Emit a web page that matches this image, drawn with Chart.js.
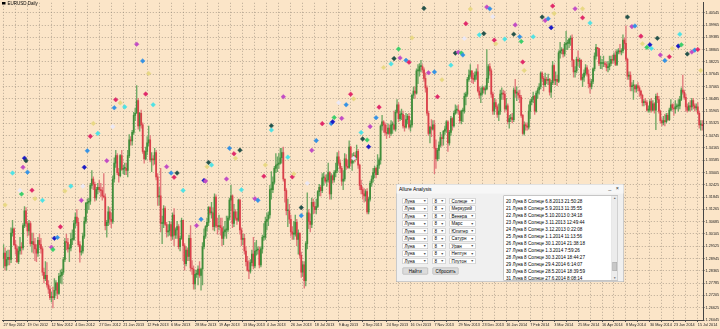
<!DOCTYPE html>
<html><head><meta charset="utf-8">
<script src="https://cdn.jsdelivr.net/npm/chart.js@4/dist/chart.umd.min.js"></script>
<style>
html,body{margin:0;padding:0;background:#fbe5c8;overflow:hidden;}
#wrap{position:relative;width:720px;height:329px;}
#c{display:block;}
#title{position:absolute;left:2px;top:1px;transform:scale(.5);transform-origin:0 0;font:9px "Liberation Sans",Arial,sans-serif;color:#000;white-space:nowrap;}
#title i{display:inline-block;width:7px;height:5px;background:#000;margin-right:4px;vertical-align:1px;}
#dlg{position:absolute;left:396px;top:184px;width:456px;height:196px;transform:scale(.5);transform-origin:0 0;background:#f0f0f0;border:1px solid #a4a4a4;box-sizing:border-box;font-family:"Liberation Sans",Arial,sans-serif;color:#000;}
#dlg .tb{position:absolute;left:0;top:0;right:0;height:18px;background:#f7f7f7;}
#dlg .tt{position:absolute;left:5px;top:3px;font-size:10px;}
#dlg .tc{position:absolute;right:6px;top:1px;font-size:11px;color:#333;letter-spacing:3px;}
#dlg .cb{position:absolute;height:12px;background:#fff;border:1px solid #b4b4b4;box-sizing:border-box;font-size:9px;line-height:10px;padding-left:3px;overflow:hidden;white-space:nowrap;}
#dlg .cb b{position:absolute;right:2px;top:0;font-weight:normal;font-size:7px;color:#555;}
#dlg .bt{position:absolute;height:14px;background:#dcdcdc;border:1px solid #a4a4a4;border-radius:2px;box-sizing:border-box;font-size:9px;line-height:12px;text-align:center;}
#dlg .lb{position:absolute;left:214px;top:22px;width:229px;height:170px;background:#fff;border:1px solid #939393;box-sizing:border-box;overflow:hidden;}
#dlg .ln{position:absolute;left:4px;font-size:9.2px;line-height:11px;white-space:nowrap;}
#dlg .sb{position:absolute;right:0;top:0;width:12px;height:100%;background:#ececec;border-left:1px solid #dadada;box-sizing:border-box;}
#dlg .sb .a{position:absolute;left:1px;width:9px;font-size:6px;color:#666;text-align:center;}
#dlg .sb .th{position:absolute;left:1px;width:9px;top:132px;height:18px;background:#c8c8c8;border:1px solid #aaa;box-sizing:border-box;}
</style></head>
<body><div id="wrap">
<canvas id="c" width="720" height="329"></canvas>
<div id="title"><i></i>EURUSD,Daily</div>
<div id="dlg"></div>
</div>
<script>
// ---- DATA ----
const xTickLabels = ["27 Sep 2012","19 Oct 2012","12 Nov 2012","4 Dec 2012","27 Dec 2012","21 Jan 2013","12 Feb 2013","6 Mar 2013","28 Mar 2013","19 Apr 2013","13 May 2013","4 Jun 2013","26 Jun 2013","18 Jul 2013","9 Aug 2013","2 Sep 2013","24 Sep 2013","16 Oct 2013","7 Nov 2013","29 Nov 2013","23 Dec 2013","16 Jan 2014","7 Feb 2014","3 Mar 2014","25 Mar 2014","16 Apr 2014","8 May 2014","30 May 2014","23 Jun 2014","15 Jul 2014"];
const yTicks = [1.40545,1.39965,1.39385,1.38805,1.38225,1.37645,1.37065,1.36485,1.35905,1.35325,1.34745,1.34165,1.33585,1.33005,1.32425,1.31845,1.31265,1.30685,1.30105,1.29525,1.28945,1.28365,1.27785,1.27205,1.26625,1.26045];
const yTop = 1.41013, yBottom = 1.26045;

const opens = [
1.2895,1.2920,1.2860,1.2890,1.2900,1.2890,1.3015,1.3035,1.2960,1.2940,1.2880,1.2930,1.2950,1.2945,1.3050,1.3120,
1.3060,1.3025,1.3060,1.2965,1.2975,1.2960,1.2940,1.2920,1.2980,1.2960,1.2940,1.2830,1.2800,1.2815,1.2770,1.2750,
1.2710,1.2715,1.2710,1.2745,1.2780,1.2730,1.2810,1.2815,1.2830,1.2890,1.2975,1.2970,1.2940,1.2945,1.2985,1.2985,
1.3060,1.3090,1.3065,1.2960,1.2925,1.2930,1.3000,1.3070,1.3155,1.3160,1.3165,1.3240,1.3270,1.3245,1.3180,1.3220,
1.3230,1.3220,1.3215,1.3190,1.3185,1.3050,1.3065,1.3115,1.3080,1.3070,1.3270,1.3345,1.3380,1.3300,1.3285,1.3380,
1.3315,1.3320,1.3320,1.3310,1.3380,1.3455,1.3450,1.3490,1.3570,1.3580,1.3640,1.3520,1.3580,1.3525,1.3400,1.3365,
1.3400,1.3440,1.3455,1.3360,1.3365,1.3360,1.3395,1.3280,1.3185,1.3190,1.3060,1.3060,1.3130,1.3055,1.3020,1.3025,
1.3055,1.3000,1.3100,1.3005,1.3030,1.3045,1.2950,1.2990,1.3075,1.2955,1.2870,1.2935,1.2905,1.2990,1.2850,1.2845,
1.2775,1.2820,1.2820,1.2845,1.2815,1.2845,1.2950,1.3000,1.3045,1.3065,1.3135,1.3110,1.3110,1.3045,1.3185,1.3050,
1.3045,1.3050,1.3040,1.2990,1.3020,1.3030,1.3030,1.3085,1.3170,1.3190,1.3060,1.3115,1.3085,1.3075,1.3170,1.3030,
1.2985,1.2990,1.2930,1.2880,1.2840,1.2835,1.2875,1.2915,1.2860,1.2930,1.2935,1.2935,1.2865,1.2940,1.2995,1.2995,
1.3070,1.3080,1.3100,1.3220,1.3220,1.3255,1.3320,1.3335,1.3340,1.3345,1.3370,1.3395,1.3270,1.3215,1.3120,1.3120,
1.3080,1.3020,1.3010,1.3010,1.3065,1.2985,1.3015,1.2910,1.2830,1.2865,1.2790,1.2965,1.3110,1.3070,1.3055,1.3160,
1.3140,1.3125,1.3140,1.3210,1.3230,1.3215,1.3275,1.3275,1.3260,1.3265,1.3300,1.3200,1.3285,1.3265,1.3300,1.3310,
1.3375,1.3345,1.3320,1.3260,1.3270,1.3365,1.3330,1.3325,1.3420,1.3345,1.3355,1.3380,1.3370,1.3400,1.3335,1.3240,
1.3220,1.3200,1.3190,1.3210,1.3115,1.3175,1.3250,1.3270,1.3300,1.3320,1.3290,1.3335,1.3360,1.3520,1.3540,1.3525,
1.3490,1.3485,1.3510,1.3485,1.3525,1.3525,1.3505,1.3585,1.3620,1.3555,1.3575,1.3575,1.3520,1.3515,1.3550,1.3565,
1.3515,1.3525,1.3665,1.3685,1.3675,1.3780,1.3780,1.3800,1.3800,1.3785,1.3745,1.3700,1.3580,1.3485,1.3515,1.3505,
1.3525,1.3415,1.3365,1.3405,1.3430,1.3465,1.3460,1.3495,1.3505,1.3540,1.3440,1.3490,1.3555,1.3520,1.3580,1.3595,
1.3595,1.3590,1.3545,1.3590,1.3590,1.3660,1.3670,1.3740,1.3760,1.3780,1.3745,1.3740,1.3760,1.3775,1.3685,1.3665,
1.3675,1.3700,1.3690,1.3695,1.3745,1.3800,1.3780,1.3670,1.3590,1.3630,1.3610,1.3575,1.3590,1.3670,1.3675,1.3670,
1.3600,1.3615,1.3540,1.3555,1.3560,1.3550,1.3690,1.3675,1.3675,1.3665,1.3655,1.3570,1.3485,1.3525,1.3520,1.3515,
1.3590,1.3635,1.3645,1.3660,1.3590,1.3675,1.3690,1.3705,1.3770,1.3745,1.3715,1.3740,1.3735,1.3740,1.3680,1.3725,
1.3805,1.3735,1.3740,1.3730,1.3865,1.3875,1.3880,1.3860,1.3905,1.3910,1.3910,1.3930,1.3935,1.3830,1.3775,1.3780,
1.3835,1.3825,1.3830,1.3740,1.3750,1.3770,1.3795,1.3765,1.3720,1.3705,1.3730,1.3790,1.3850,1.3890,1.3885,1.3815,
1.3815,1.3815,1.3815,1.3810,1.3795,1.3800,1.3815,1.3835,1.3830,1.3855,1.3810,1.3870,1.3875,1.3870,1.3875,1.3925,
1.3910,1.3835,1.3755,1.3760,1.3705,1.3710,1.3710,1.3695,1.3710,1.3700,1.3685,1.3665,1.3630,1.3635,1.3630,1.3595,
1.3595,1.3635,1.3595,1.3625,1.3595,1.3660,1.3645,1.3590,1.3545,1.3535,1.3545,1.3540,1.3570,1.3550,1.3595,1.3620,
1.3605,1.3600,1.3610,1.3615,1.3615,1.3645,1.3690,1.3680,1.3655,1.3610,1.3595,1.3615,1.3610,1.3640,1.3615,1.3605,
1.3610,1.3580,1.3525,1.3525];

const highs = [
1.2960,1.2945,1.2930,1.2935,1.2935,1.3040,1.3075,1.3040,1.2980,1.2955,1.2950,1.2995,1.2970,1.3060,1.3140,1.3135,
1.3070,1.3075,1.3070,1.3015,1.3015,1.2990,1.2960,1.2995,1.3010,1.2990,1.2950,1.2850,1.2880,1.2875,1.2790,1.2765,
1.2735,1.2760,1.2800,1.2790,1.2780,1.2825,1.2840,1.2845,1.2900,1.2990,1.3010,1.2990,1.2960,1.3015,1.3030,1.3075,
1.3110,1.3125,1.3085,1.2975,1.2955,1.3015,1.3090,1.3160,1.3175,1.3180,1.3250,1.3310,1.3280,1.3255,1.3230,1.3250,
1.3265,1.3250,1.3230,1.3295,1.3200,1.3075,1.3140,1.3135,1.3110,1.3285,1.3370,1.3405,1.3390,1.3320,1.3385,1.3405,
1.3335,1.3345,1.3345,1.3405,1.3480,1.3470,1.3500,1.3585,1.3605,1.3711,1.3650,1.3585,1.3595,1.3535,1.3405,1.3420,
1.3470,1.3520,1.3475,1.3395,1.3380,1.3415,1.3405,1.3295,1.3230,1.3320,1.3095,1.3145,1.3140,1.3065,1.3055,1.3070,
1.3065,1.3110,1.3130,1.3040,1.3070,1.3055,1.3000,1.3085,1.3010,1.2965,1.2950,1.2945,1.3005,1.3050,1.2885,1.2860,
1.2840,1.2840,1.2860,1.2880,1.2850,1.2970,1.3035,1.3050,1.3085,1.3140,1.3140,1.3160,1.3135,1.3200,1.3195,1.3085,
1.3100,1.3085,1.3085,1.3045,1.3070,1.3095,1.3095,1.3180,1.3240,1.3195,1.3150,1.3125,1.3115,1.3175,1.3175,1.3040,
1.3010,1.3010,1.2950,1.2905,1.2885,1.2890,1.2935,1.2995,1.2970,1.2980,1.2950,1.2950,1.2950,1.3005,1.3060,1.3090,
1.3110,1.3115,1.3240,1.3305,1.3280,1.3330,1.3390,1.3375,1.3390,1.3415,1.3415,1.3420,1.3270,1.3225,1.3175,1.3150,
1.3100,1.3045,1.3070,1.3100,1.3080,1.3030,1.3015,1.2925,1.2880,1.2880,1.2975,1.3205,1.3125,1.3105,1.3180,1.3175,
1.3160,1.3175,1.3215,1.3245,1.3240,1.3295,1.3300,1.3290,1.3290,1.3345,1.3305,1.3295,1.3290,1.3310,1.3345,1.3395,
1.3400,1.3360,1.3330,1.3310,1.3390,1.3385,1.3360,1.3450,1.3425,1.3390,1.3395,1.3395,1.3430,1.3410,1.3340,1.3265,
1.3230,1.3225,1.3220,1.3225,1.3185,1.3260,1.3285,1.3320,1.3330,1.3325,1.3385,1.3370,1.3525,1.3570,1.3545,1.3535,
1.3525,1.3530,1.3525,1.3545,1.3540,1.3590,1.3595,1.3645,1.3630,1.3590,1.3600,1.3590,1.3570,1.3580,1.3575,1.3580,
1.3545,1.3670,1.3705,1.3705,1.3790,1.3810,1.3815,1.3830,1.3810,1.3795,1.3770,1.3710,1.3590,1.3520,1.3550,1.3545,
1.3545,1.3455,1.3415,1.3445,1.3490,1.3480,1.3500,1.3520,1.3545,1.3545,1.3500,1.3565,1.3560,1.3590,1.3620,1.3615,
1.3620,1.3590,1.3595,1.3605,1.3675,1.3680,1.3750,1.3785,1.3810,1.3780,1.3770,1.3775,1.3790,1.3810,1.3705,1.3700,
1.3710,1.3705,1.3710,1.3880,1.3810,1.3815,1.3790,1.3680,1.3650,1.3645,1.3620,1.3625,1.3690,1.3700,1.3690,1.3685,
1.3650,1.3625,1.3570,1.3575,1.3580,1.3700,1.3740,1.3705,1.3685,1.3690,1.3665,1.3575,1.3540,1.3535,1.3535,1.3620,
1.3645,1.3655,1.3680,1.3665,1.3685,1.3700,1.3720,1.3775,1.3775,1.3755,1.3770,1.3750,1.3765,1.3745,1.3735,1.3825,
1.3810,1.3775,1.3760,1.3875,1.3915,1.3890,1.3885,1.3915,1.3967,1.3925,1.3935,1.3945,1.3950,1.3835,1.3800,1.3845,
1.3875,1.3840,1.3835,1.3765,1.3785,1.3810,1.3805,1.3785,1.3740,1.3740,1.3795,1.3865,1.3905,1.3890,1.3885,1.3850,
1.3835,1.3850,1.3825,1.3820,1.3825,1.3850,1.3850,1.3855,1.3865,1.3875,1.3880,1.3885,1.3905,1.3885,1.3950,1.3935,
1.3993,1.3840,1.3775,1.3775,1.3725,1.3735,1.3715,1.3715,1.3725,1.3710,1.3690,1.3670,1.3645,1.3650,1.3640,1.3615,
1.3645,1.3650,1.3640,1.3630,1.3670,1.3675,1.3660,1.3595,1.3555,1.3565,1.3575,1.3580,1.3580,1.3605,1.3645,1.3625,
1.3625,1.3640,1.3625,1.3645,1.3660,1.3700,1.3760,1.3690,1.3670,1.3625,1.3630,1.3640,1.3650,1.3650,1.3625,1.3625,
1.3630,1.3590,1.3545,1.3545];

const lows = [
1.2850,1.2840,1.2840,1.2865,1.2865,1.2875,1.3000,1.2955,1.2915,1.2875,1.2870,1.2915,1.2915,1.2935,1.3040,1.3045,
1.3000,1.3005,1.2955,1.2925,1.2920,1.2885,1.2880,1.2905,1.2945,1.2920,1.2815,1.2780,1.2790,1.2760,1.2730,1.2700,
1.2690,1.2661,1.2700,1.2720,1.2705,1.2725,1.2780,1.2775,1.2820,1.2880,1.2935,1.2925,1.2880,1.2930,1.2960,1.2980,
1.3040,1.3050,1.2950,1.2877,1.2910,1.2920,1.2990,1.3060,1.3110,1.3125,1.3150,1.3225,1.3220,1.3165,1.3170,1.3200,
1.3210,1.3185,1.3170,1.3180,1.3030,1.2995,1.3050,1.3055,1.3040,1.3060,1.3255,1.3325,1.3290,1.3255,1.3280,1.3310,
1.3295,1.3290,1.3290,1.3280,1.3370,1.3430,1.3430,1.3480,1.3545,1.3580,1.3505,1.3495,1.3510,1.3390,1.3345,1.3360,
1.3385,1.3425,1.3350,1.3305,1.3335,1.3340,1.3265,1.3145,1.3145,1.3020,1.2965,1.3040,1.3050,1.2995,1.3000,1.3005,
1.2980,1.2985,1.2955,1.2990,1.2990,1.2940,1.2930,1.2985,1.2885,1.2840,1.2860,1.2885,1.2885,1.2835,1.2820,1.2750,
1.2750,1.2805,1.2770,1.2805,1.2745,1.2770,1.2940,1.2990,1.3025,1.3050,1.3100,1.3085,1.3030,1.3025,1.3040,1.3010,
1.3030,1.3005,1.2955,1.2960,1.3000,1.2990,1.3020,1.3075,1.3120,1.3040,1.3045,1.3075,1.3055,1.3070,1.3010,1.2955,
1.2960,1.2915,1.2860,1.2835,1.2800,1.2825,1.2860,1.2845,1.2850,1.2910,1.2915,1.2850,1.2855,1.2920,1.2980,1.2985,
1.3030,1.3050,1.3085,1.3175,1.3205,1.3245,1.3300,1.3305,1.3320,1.3340,1.3345,1.3260,1.3160,1.3100,1.3045,1.3060,
1.3000,1.2985,1.2985,1.3000,1.2955,1.2915,1.2895,1.2805,1.2810,1.2755,1.2765,1.2940,1.3035,1.3020,1.3040,1.3105,
1.3110,1.3105,1.3135,1.3190,1.3190,1.3205,1.3240,1.3250,1.3235,1.3255,1.3175,1.3175,1.3250,1.3255,1.3280,1.3300,
1.3335,1.3300,1.3240,1.3220,1.3260,1.3315,1.3320,1.3320,1.3330,1.3310,1.3345,1.3350,1.3360,1.3320,1.3220,1.3200,
1.3175,1.3160,1.3165,1.3105,1.3105,1.3165,1.3235,1.3255,1.3275,1.3275,1.3290,1.3320,1.3340,1.3500,1.3490,1.3475,
1.3460,1.3480,1.3465,1.3475,1.3485,1.3500,1.3495,1.3580,1.3540,1.3545,1.3550,1.3510,1.3495,1.3510,1.3530,1.3505,
1.3495,1.3515,1.3650,1.3650,1.3670,1.3720,1.3755,1.3775,1.3770,1.3730,1.3680,1.3570,1.3475,1.3440,1.3470,1.3500,
1.3295,1.3320,1.3355,1.3365,1.3420,1.3425,1.3430,1.3480,1.3490,1.3400,1.3430,1.3475,1.3500,1.3515,1.3575,1.3580,
1.3575,1.3535,1.3530,1.3540,1.3580,1.3620,1.3660,1.3730,1.3750,1.3725,1.3720,1.3730,1.3740,1.3680,1.3650,1.3630,
1.3665,1.3675,1.3670,1.3690,1.3725,1.3760,1.3655,1.3575,1.3575,1.3600,1.3560,1.3545,1.3575,1.3645,1.3645,1.3585,
1.3595,1.3530,1.3510,1.3540,1.3535,1.3540,1.3655,1.3640,1.3650,1.3630,1.3560,1.3480,1.3477,1.3500,1.3500,1.3505,
1.3555,1.3620,1.3630,1.3575,1.3585,1.3650,1.3670,1.3695,1.3730,1.3685,1.3705,1.3720,1.3715,1.3665,1.3655,1.3715,
1.3715,1.3715,1.3710,1.3725,1.3840,1.3860,1.3845,1.3850,1.3880,1.3880,1.3890,1.3900,1.3800,1.3750,1.3750,1.3770,
1.3805,1.3795,1.3735,1.3705,1.3730,1.3760,1.3755,1.3700,1.3675,1.3695,1.3720,1.3780,1.3835,1.3850,1.3805,1.3790,
1.3790,1.3800,1.3800,1.3780,1.3775,1.3785,1.3805,1.3815,1.3820,1.3805,1.3805,1.3860,1.3860,1.3855,1.3865,1.3885,
1.3825,1.3740,1.3740,1.3685,1.3685,1.3645,1.3680,1.3680,1.3685,1.3660,1.3650,1.3615,1.3615,1.3620,1.3590,1.3585,
1.3585,1.3585,1.3590,1.3580,1.3503,1.3630,1.3580,1.3535,1.3520,1.3525,1.3520,1.3535,1.3545,1.3545,1.3590,1.3595,
1.3570,1.3580,1.3600,1.3590,1.3600,1.3640,1.3670,1.3645,1.3590,1.3585,1.3590,1.3590,1.3595,1.3600,1.3590,1.3595,
1.3575,1.3510,1.3500,1.3500];

const closes = [
1.2920,1.2860,1.2890,1.2900,1.2890,1.3015,1.3035,1.2960,1.2940,1.2880,1.2930,1.2950,1.2945,1.3050,1.3120,1.3060,
1.3025,1.3060,1.2965,1.2975,1.2960,1.2940,1.2920,1.2980,1.2960,1.2940,1.2830,1.2800,1.2815,1.2770,1.2750,1.2710,
1.2715,1.2710,1.2745,1.2780,1.2730,1.2810,1.2815,1.2830,1.2890,1.2975,1.2970,1.2940,1.2945,1.2985,1.2985,1.3060,
1.3090,1.3065,1.2960,1.2925,1.2930,1.3000,1.3070,1.3155,1.3160,1.3165,1.3240,1.3270,1.3245,1.3180,1.3220,1.3230,
1.3220,1.3215,1.3190,1.3185,1.3050,1.3065,1.3115,1.3080,1.3070,1.3270,1.3345,1.3380,1.3300,1.3285,1.3380,1.3315,
1.3320,1.3320,1.3310,1.3380,1.3455,1.3450,1.3490,1.3570,1.3580,1.3640,1.3520,1.3580,1.3525,1.3400,1.3365,1.3400,
1.3440,1.3455,1.3360,1.3365,1.3360,1.3395,1.3280,1.3185,1.3190,1.3060,1.3060,1.3130,1.3055,1.3020,1.3025,1.3055,
1.3000,1.3100,1.3005,1.3030,1.3045,1.2950,1.2990,1.3075,1.2955,1.2870,1.2935,1.2905,1.2990,1.2850,1.2845,1.2775,
1.2820,1.2820,1.2845,1.2815,1.2845,1.2950,1.3000,1.3045,1.3065,1.3135,1.3110,1.3110,1.3045,1.3185,1.3050,1.3045,
1.3050,1.3040,1.2990,1.3020,1.3030,1.3030,1.3085,1.3170,1.3190,1.3060,1.3115,1.3085,1.3075,1.3170,1.3030,1.2985,
1.2990,1.2930,1.2880,1.2840,1.2835,1.2875,1.2915,1.2860,1.2930,1.2935,1.2935,1.2865,1.2940,1.2995,1.2995,1.3070,
1.3080,1.3100,1.3220,1.3220,1.3255,1.3320,1.3335,1.3340,1.3345,1.3370,1.3395,1.3270,1.3215,1.3120,1.3120,1.3080,
1.3020,1.3010,1.3010,1.3065,1.2985,1.3015,1.2910,1.2830,1.2865,1.2790,1.2965,1.3110,1.3070,1.3055,1.3160,1.3140,
1.3125,1.3140,1.3210,1.3230,1.3215,1.3275,1.3275,1.3260,1.3265,1.3300,1.3200,1.3285,1.3265,1.3300,1.3310,1.3375,
1.3345,1.3320,1.3260,1.3270,1.3365,1.3330,1.3325,1.3420,1.3345,1.3355,1.3380,1.3370,1.3400,1.3335,1.3240,1.3220,
1.3200,1.3190,1.3210,1.3115,1.3175,1.3250,1.3270,1.3300,1.3320,1.3290,1.3335,1.3360,1.3520,1.3540,1.3525,1.3490,
1.3485,1.3510,1.3485,1.3525,1.3525,1.3505,1.3585,1.3620,1.3555,1.3575,1.3575,1.3520,1.3515,1.3550,1.3565,1.3515,
1.3525,1.3665,1.3685,1.3675,1.3780,1.3780,1.3800,1.3800,1.3785,1.3745,1.3700,1.3580,1.3485,1.3515,1.3505,1.3525,
1.3415,1.3365,1.3405,1.3430,1.3465,1.3460,1.3495,1.3505,1.3540,1.3440,1.3490,1.3555,1.3520,1.3580,1.3595,1.3595,
1.3590,1.3545,1.3590,1.3590,1.3660,1.3670,1.3740,1.3760,1.3780,1.3745,1.3740,1.3760,1.3775,1.3685,1.3665,1.3675,
1.3700,1.3690,1.3695,1.3745,1.3800,1.3780,1.3670,1.3590,1.3630,1.3610,1.3575,1.3590,1.3670,1.3675,1.3670,1.3600,
1.3615,1.3540,1.3555,1.3560,1.3550,1.3690,1.3675,1.3675,1.3665,1.3655,1.3570,1.3485,1.3525,1.3520,1.3515,1.3590,
1.3635,1.3645,1.3660,1.3590,1.3675,1.3690,1.3705,1.3770,1.3745,1.3715,1.3740,1.3735,1.3740,1.3680,1.3725,1.3805,
1.3735,1.3740,1.3730,1.3865,1.3875,1.3880,1.3860,1.3905,1.3910,1.3910,1.3930,1.3935,1.3830,1.3775,1.3780,1.3835,
1.3825,1.3830,1.3740,1.3750,1.3770,1.3795,1.3765,1.3720,1.3705,1.3730,1.3790,1.3850,1.3890,1.3885,1.3815,1.3815,
1.3815,1.3815,1.3810,1.3795,1.3800,1.3815,1.3835,1.3830,1.3855,1.3810,1.3870,1.3875,1.3870,1.3875,1.3925,1.3910,
1.3835,1.3755,1.3760,1.3705,1.3710,1.3710,1.3695,1.3710,1.3700,1.3685,1.3665,1.3630,1.3635,1.3630,1.3595,1.3595,
1.3635,1.3595,1.3625,1.3595,1.3660,1.3645,1.3590,1.3545,1.3535,1.3545,1.3540,1.3570,1.3550,1.3595,1.3620,1.3605,
1.3600,1.3610,1.3615,1.3615,1.3645,1.3690,1.3680,1.3655,1.3610,1.3595,1.3615,1.3610,1.3640,1.3615,1.3605,1.3610,
1.3580,1.3525,1.3525,1.3522];

// astro markers: bar index, price, kind
const markerBar = [89,93,97,95,75,78,74,81,100,281,312,309,308,318,273,264,261,265,259,269,271,254,302,304,306,307,299,284,288,293,290,187,232,234,224,229,251,
323,325,327,367,368,382,387,387,360,362,364,366,392,342,321,341,345,346,328,329,335,354,347,348,417,420,422,426,437,427,432,430,433,452,439,442,445,447,451,453,457,460,462,464,466,
60,73,58,63,56,69,54,14,15,13,6,16,19,12,11,21,26,41,45,52,53,1,109,112,116,114,120,151,154,155,158,137,136,139,134,135,149,159,
179,179,213,219,220,221,226,249,245,239,240,243,244,209,206,190,234,175,174,193,194,203,168,170,199,38,34,36,32,33,129,132,199];
const markerPrice = [1.3906,1.3827,1.3768,1.3671,1.3644,1.3629,1.3606,1.3610,1.3620,1.4075,1.4072,1.4003,1.3933,1.3950,1.3936,1.3883,1.3838,1.3841,1.3813,1.3830,1.3821,1.3796,1.3864,1.3868,1.3864,1.3855,1.3807,1.3771,1.3775,1.3738,1.3658,1.3658,1.3670,1.3648,1.3630,1.3620,1.3609,
1.4081,1.4073,1.4036,1.4086,1.4051,1.4073,1.4073,1.4031,1.4034,1.4018,1.4026,1.3984,1.4006,1.3997,1.3956,1.3953,1.3941,1.3919,1.3925,1.3908,1.3930,1.3941,1.3822,1.3782,1.4034,1.3989,1.3992,1.3944,1.3934,1.3908,1.3903,1.3891,1.3886,1.3953,1.3855,1.3829,1.3847,1.3886,1.3897,1.3903,1.3860,1.3869,1.3878,1.3881,1.3782,
1.3532,1.3517,1.3471,1.3485,1.3403,1.3356,1.3325,1.3368,1.3356,1.3325,1.3298,1.3302,1.3217,1.3199,1.3216,1.3177,1.3169,1.3213,1.3236,1.3169,1.3236,1.3147,1.3328,1.3298,1.3298,1.3278,1.3216,1.3415,1.3389,1.3368,1.3406,1.3348,1.3328,1.3336,1.3263,1.3260,1.3270,1.3219,
1.3521,1.3501,1.3531,1.3532,1.3540,1.3560,1.3556,1.3559,1.3517,1.3489,1.3459,1.3454,1.3422,1.3451,1.3405,1.3373,1.3368,1.3336,1.3283,1.3280,1.3294,1.3250,1.3177,1.3169,1.3135,1.3044,1.2990,1.2994,1.2948,1.2937,1.3050,1.3080,1.3097];
const markerKind = ["M","B","K","R","R","K","B","C","C","T","K","R","L","C","K","G","T","M","C","B","R","K","T","M","G","B","C","M","B","K","R","M","R","K","L","B","R",
"M","B","L","R","K","M","K","R","T","M","B","N","C","M","T","T","B","G","R","K","C","C","R","K","T","M","B","R","T","K","N","G","C","C","M","B","R","K","N","G","T","M","B","R","K",
"K","L","R","C","B","M","N","N","T","M","C","B","R","G","L","K","C","K","C","M","L","K","M","B","T","R","C","B","R","K","T","T","K","C","N","M","M","C",
"T","C","R","B","N","G","M","B","M","C","T","G","N","B","M","C","L","K","R","R","K","L","M","B","T","R","N","B","M","G","M","B","B"];

// dialog content
const dlgCol1 = ["Луна","Луна","Луна","Луна","Луна","Луна","Луна","Луна","Луна"];
const dlgCol2 = ["8","8","8","8","8","8","8","8","8"];
const dlgCol3 = ["Солнце","Меркурий","Венера","Марс","Юпитер","Сатурн","Уран","Нептун","Плутон"];
const dlgList = ["20 Луна 8 Солнце 6.8.2013 21:50:28","21 Луна 8 Солнце 5.9.2013 11:35:55","22 Луна 8 Солнце 5.10.2013 0:34:18","23 Луна 8 Солнце 3.11.2013 12:49:44","24 Луна 8 Солнце 3.12.2013 0:22:08","25 Луна 8 Солнце 1.1.2014 11:13:56","26 Луна 8 Солнце 30.1.2014 21:38:18","27 Луна 8 Солнце 1.3.2014 7:59:26","28 Луна 8 Солнце 30.3.2014 18:44:27","29 Луна 8 Солнце 29.4.2014 6:14:07","30 Луна 8 Солнце 28.5.2014 18:39:59","31 Луна 8 Солнце 27.6.2014 8:08:14"];

// ---- STYLE ----
const palette = {M:'#c24cc4',C:'#4fe2e4',B:'#3592e4',T:'#24524a',R:'#e0296a',K:'#e8d884',L:'#ebe8f4',G:'#3ccf6a',N:'#1a1ac4'};
const bullCol = '#3f8d3a', bearCol = '#d9404a';
const bullWick = '#6fa864', bearWick = '#e27a7c';
const N = closes.length;
const gridBars = [];
for (let v = 0; v < N; v += 8) gridBars.push(v);

// build dialog
(function(){
  const d = document.getElementById('dlg');
  let h = '<div class="tb"><span class="tt">Allure Analysis</span><span class="tc">_ ×</span></div>';
  for (let k = 0; k < dlgCol1.length; k++) {
    const top = 27 + 15*k;
    h += `<div class="cb" style="left:12px;top:${top}px;width:51px">${dlgCol1[k]}<b>▼</b></div>`;
    h += `<div class="cb" style="left:72px;top:${top}px;width:26px">${dlgCol2[k]}<b>▼</b></div>`;
    const long = dlgCol3[k].length > 7;
    h += `<div class="cb" style="left:106px;top:${top}px;width:52px">${dlgCol3[k]}${long?'':'<b>▼</b>'}</div>`;
  }
  h += '<div class="bt" style="left:12px;top:166px;width:51px">Найти</div>';
  h += '<div class="bt" style="left:72px;top:166px;width:52px">Сбросить</div>';
  h += '<div class="lb">';
  dlgList.forEach((t,k)=>{ h += `<div class="ln" style="top:${5+14*k}px">${t}</div>`; });
  h += '<div class="sb"><div class="a" style="top:1px">▲</div><div class="th"></div><div class="a" style="bottom:1px">▼</div></div></div>';
  d.innerHTML = h;
})();

const tickFont = {family:'"Liberation Sans", Arial, sans-serif', size:3.8};
const gridCol = 'rgba(140,128,114,0.6)';
new Chart(document.getElementById('c'), {
  type: 'bar',
  data: {
    datasets: [
      {
        type: 'scatter', order: 0,
        data: markerBar.map((b,i)=>({x:b, y:markerPrice[i]})),
        pointStyle: 'rectRot', pointRadius: 2.3, pointHoverRadius: 2.3,
        backgroundColor: markerKind.map(k=>palette[k]),
        borderColor: markerKind.map(k=>palette[k]), borderWidth: 0.5
      },
      {
        type: 'bar', order: 1, grouped: false,
        data: opens.map((o,i)=>({x:i, y:[o, closes[i]]})),
        backgroundColor: c => closes[c.dataIndex] >= opens[c.dataIndex] ? bullCol : bearCol,
        barThickness: 1.1, minBarLength: 1, borderWidth: 0
      },
      {
        type: 'bar', order: 2, grouped: false,
        data: lows.map((l,i)=>({x:i, y:[l, highs[i]]})),
        backgroundColor: c => closes[c.dataIndex] >= opens[c.dataIndex] ? bullWick : bearWick,
        barThickness: 0.7, borderWidth: 0
      }
    ]
  },
  options: {
    responsive: false, animation: false, devicePixelRatio: 1, events: [],
    layout: {padding: 0},
    plugins: {legend: {display: false}, tooltip: {enabled: false}},
    scales: {
      x: {
        type: 'linear', min: -0.5, max: N - 0.5, bounds: 'data', offset: false, position: 'bottom',
        afterBuildTicks: s => { s.ticks = gridBars.map(v=>({value:v})); },
        afterFit: s => { s.height = 9; s.paddingLeft = 0; s.paddingRight = 0; },
        ticks: {autoSkip:false, maxRotation:0, minRotation:0, align:'start', padding:0.5, font:tickFont, color:'#222',
                callback: v => (v % 16 === 0 ? xTickLabels[v/16] : '')},
        grid: {offset:false, color:gridCol, lineWidth:1, tickLength:2, tickColor:'#555', tickWidth:1, tickBorderDash:[]},
        border: {display:true, color:'#444', width:1, dash:[1,2]}
      },
      y: {
        type: 'linear', position: 'right', min: yBottom, max: yTop, bounds: 'data',
        afterBuildTicks: s => { s.ticks = yTicks.map(v=>({value:v})); },
        afterFit: s => { s.width = 17; s.paddingTop = 0; s.paddingBottom = 0; },
        ticks: {padding:1, font:{family:'"Liberation Sans", Arial, sans-serif', size:3.8}, color:'#222', callback: v => v.toFixed(5)},
        grid: {color:gridCol, lineWidth:1, tickLength:1.5, tickColor:'#555', tickWidth:1, tickBorderDash:[]},
        border: {display:true, color:'#444', width:1, dash:[1,2]}
      }
    }
  }
});
</script>
</body></html>
